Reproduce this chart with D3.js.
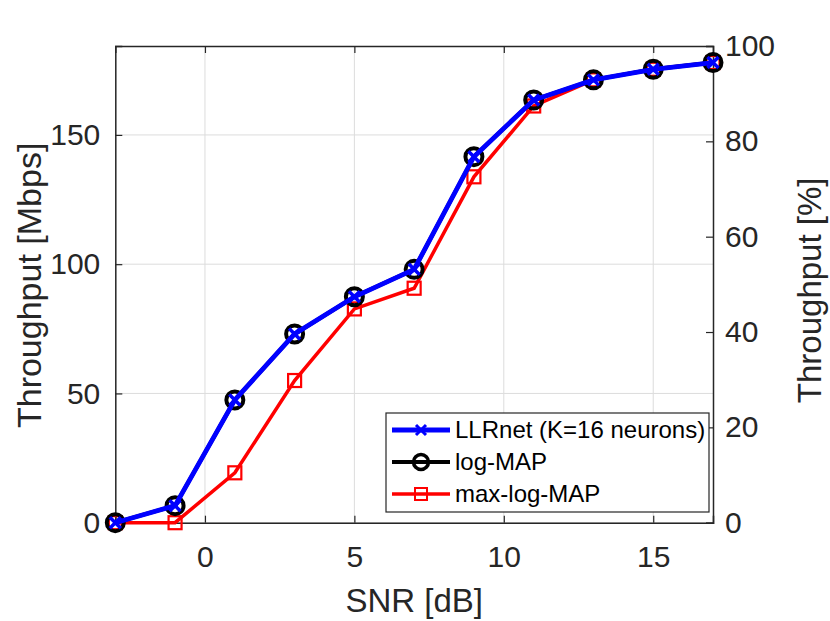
<!DOCTYPE html>
<html><head><meta charset="utf-8">
<script src="https://cdn.jsdelivr.net/npm/d3@7"></script>
<style>body{margin:0;background:#fff}svg{display:block}text{font-family:"Liberation Sans",Arial,sans-serif}</style>
</head><body>
<svg id="c" width="830" height="621"></svg>
<script>
const snr = [-3,-1,1,3,5,7,9,11,13,15,17];
const llrnet = [0,6.6,47.5,73,87.4,98,141.6,163.5,171.3,175.4,178];
const logmap = [0,6.6,47.5,73,87.4,98,141.6,163.5,171.3,175.4,178];
const maxlogmap = [0,0,19.3,55,82.7,90.7,133.8,161.2,171.3,175.4,178];
const xTicks = [0,5,10,15];
const yTicksL = [0,50,100,150];
const yTicksR = [0,20,40,60,80,100];
const maxMbps = 184.4;
const seriesNames = ["LLRnet (K=16 neurons)","log-MAP","max-log-MAP"];

const svg = d3.select("#c");
const L=115.3, R=713, T=46, B=522.7;
const x = d3.scaleLinear().domain([-3,17]).range([L,R]);
const yL = d3.scaleLinear().domain([0,maxMbps]).range([B,T]);
const yR = d3.scaleLinear().domain([0,100]).range([B,T]);

// grid
const g = svg.append("g");
g.selectAll(".gx").data(xTicks).enter().append("line")
  .attr("x1",d=>x(d)).attr("x2",d=>x(d)).attr("y1",T).attr("y2",B)
  .attr("stroke","#dcdcdc").attr("stroke-width",1);
g.selectAll(".gy").data(yTicksL).enter().append("line")
  .attr("y1",d=>yL(d)).attr("y2",d=>yL(d)).attr("x1",L).attr("x2",R)
  .attr("stroke","#dcdcdc").attr("stroke-width",1);

// axes
const ax = svg.append("g").attr("transform",`translate(0,${B})`)
  .call(d3.axisBottom(x).tickValues(xTicks).tickSize(-7).tickPadding(34));
const ayl = svg.append("g").attr("transform",`translate(${L},0)`)
  .call(d3.axisLeft(yL).tickValues(yTicksL).tickSize(-7).tickPadding(15));
const ayr = svg.append("g").attr("transform",`translate(${R},0)`)
  .call(d3.axisRight(yR).tickValues(yTicksR).tickSize(-7).tickPadding(12));
const axT = svg.append("g").attr("transform",`translate(0,${T})`)
  .call(d3.axisTop(x).tickValues(xTicks).tickSize(-7).tickFormat(""));
[ax,ayl,ayr,axT].forEach(a=>{
  a.select(".domain").attr("stroke","#262626").attr("stroke-width",1.5);
  a.selectAll(".tick line").attr("stroke","#262626").attr("stroke-width",1.2);
  a.selectAll(".tick text").attr("font-size",30).attr("fill","#262626")
   .attr("font-family","'Liberation Sans',Arial,sans-serif");
});
ax.selectAll(".tick text").attr("dy","0.35em");

// labels
svg.append("text").attr("x",(L+R)/2).attr("y",600).attr("dy","0.35em")
  .attr("text-anchor","middle").attr("font-size",33).attr("fill","#262626").text("SNR [dB]");
svg.append("text").attr("transform",`translate(29,${(T+B)/2+1}) rotate(-90)`).attr("dy","0.35em")
  .attr("text-anchor","middle").attr("font-size",34).attr("fill","#262626").text("Throughput [Mbps]");
svg.append("text").attr("transform",`translate(809,${(T+B)/2+6}) rotate(-90)`).attr("dy","0.35em")
  .attr("text-anchor","middle").attr("font-size",33).attr("fill","#262626").text("Throughput [%]");

const line = d3.line().x((d,i)=>x(snr[i])).y(d=>yL(d));
const pts = arr => arr.map((v,i)=>[x(snr[i]),yL(v)]);

// max-log-MAP (red)
svg.append("path").datum(maxlogmap).attr("d",line).attr("fill","none")
  .attr("stroke","#ff0000").attr("stroke-width",3.5);
svg.selectAll(".sq").data(pts(maxlogmap)).enter().append("rect")
  .attr("x",d=>d[0]-6.5).attr("y",d=>d[1]-6.5).attr("width",13).attr("height",13)
  .attr("fill","none").attr("stroke","#ff0000").attr("stroke-width",2.2);
// log-MAP (black)
svg.append("path").datum(logmap).attr("d",line).attr("fill","none")
  .attr("stroke","#000").attr("stroke-width",4);
svg.selectAll(".ci").data(pts(logmap)).enter().append("circle")
  .attr("cx",d=>d[0]).attr("cy",d=>d[1]).attr("r",8.5)
  .attr("fill","none").attr("stroke","#000").attr("stroke-width",4);
// LLRnet (blue)
svg.append("path").datum(llrnet).attr("d",line).attr("fill","none")
  .attr("stroke","#0000ff").attr("stroke-width",4.8);
const cross = svg.append("g");
pts(llrnet).forEach(p=>{
  cross.append("path").attr("d",`M${p[0]-5.5},${p[1]-5.5}L${p[0]+5.5},${p[1]+5.5}M${p[0]-5.5},${p[1]+5.5}L${p[0]+5.5},${p[1]-5.5}`)
    .attr("stroke","#0000ff").attr("stroke-width",3.5);
});

// legend
const lg = svg.append("g");
lg.append("rect").attr("x",386).attr("y",413).attr("width",323).attr("height",99)
  .attr("fill","#fff").attr("stroke","#262626").attr("stroke-width",1.2);
const ly = [430,462,494];
const lcol = ["#0000ff","#000","#ff0000"];
const lw = [4.8,4,3.5];
seriesNames.forEach((n,i)=>{
  lg.append("line").attr("x1",392).attr("x2",450).attr("y1",ly[i]).attr("y2",ly[i])
    .attr("stroke",lcol[i]).attr("stroke-width",lw[i]);
  const cx=421, cy=ly[i];
  if(i===0){
    lg.append("path").attr("d",`M${cx-5},${cy-5}L${cx+5},${cy+5}M${cx-5},${cy+5}L${cx+5},${cy-5}`)
      .attr("stroke",lcol[i]).attr("stroke-width",3);
  } else if(i===1){
    lg.append("circle").attr("cx",cx).attr("cy",cy).attr("r",7.5).attr("fill","none")
      .attr("stroke","#000").attr("stroke-width",3.5);
  } else {
    lg.append("rect").attr("x",cx-6).attr("y",cy-6).attr("width",12).attr("height",12)
      .attr("fill","none").attr("stroke","#ff0000").attr("stroke-width",2);
  }
  lg.append("text").attr("x",455).attr("y",ly[i]).attr("dy","0.35em")
    .attr("font-size",24).attr("fill","#000").text(n);
});
</script>
</body></html>
